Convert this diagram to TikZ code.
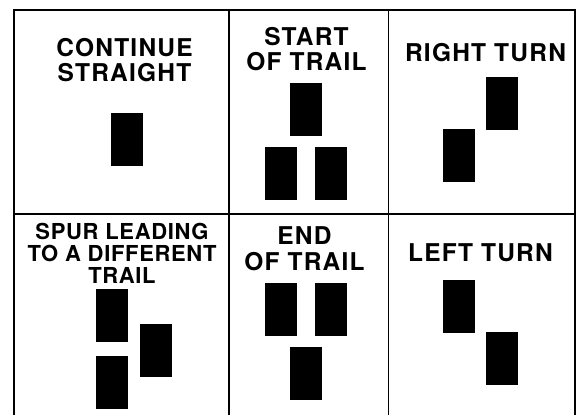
\documentclass[tikz,border=0pt]{standalone}
\usepackage{fontspec}
\newfontfamily\signfont{texgyreheros-bold.otf}[LetterSpace=5]
\newfontfamily\spurfont{texgyreheros-bold.otf}[LetterSpace=3]
\usepackage{tikz}

\begin{document}
\begin{tikzpicture}[x=1pt, y=-1pt,
  blaze/.style={fill=black, inner sep=0pt, minimum width=32pt, minimum height=53pt},
  sign/.style={font=\signfont\fontsize{24.5}{25.5}\selectfont, align=center, anchor=north, inner sep=0pt},
  smallsign/.style={sign, font=\spurfont\fontsize{22}{21.7}\selectfont}]
  \useasboundingbox[fill=white] (0,0) rectangle (577,415);
  \draw[line width=1.6pt] (14,415) -- (14,10) -- (575,10) -- (575,415);
  \draw[line width=1.6pt] (229,10) -- (229,415);
  \draw[line width=1.6pt] (388.3,10) -- (388.3,415);
  \draw[line width=1.6pt] (14,214) -- (575,214);

  \node[sign] (straight) at (124.5,37.7) {CONTINUE\\STRAIGHT};
  \node[blaze] (straight1) at (127.2,139) {};

  \node[sign] (start) at (306.5,26.7) {START\\OF TRAIL};
  \node[blaze] (start1) at (306.2,109.7) {};
  \node[blaze] (start2) at (280.5,173.8) {};
  \node[blaze] (start3) at (330.5,173.8) {};

  \node[sign] (right) at (485.5,43.3) {RIGHT TURN};
  \node[blaze] (right1) at (501.7,103.8) {};
  \node[blaze] (right2) at (459.3,155.7) {};

  \node[smallsign] (spur) at (122,223.3) {SPUR LEADING\\TO A DIFFERENT\\TRAIL};
  \node[blaze] (spur1) at (111.7,315) {};
  \node[blaze] (spur2) at (156,350) {};
  \node[blaze] (spur3) at (111.7,382) {};

  \node[sign] (end) at (304.5,226.7) {END\\OF TRAIL};
  \node[blaze] (end1) at (280.5,309.7) {};
  \node[blaze] (end2) at (330.5,309.7) {};
  \node[blaze] (end3) at (306.2,373.8) {};

  \node[sign] (left) at (480.5,243.3) {LEFT TURN};
  \node[blaze] (left1) at (459.3,306.7) {};
  \node[blaze] (left2) at (501.7,358.7) {};
\end{tikzpicture}
\end{document}
